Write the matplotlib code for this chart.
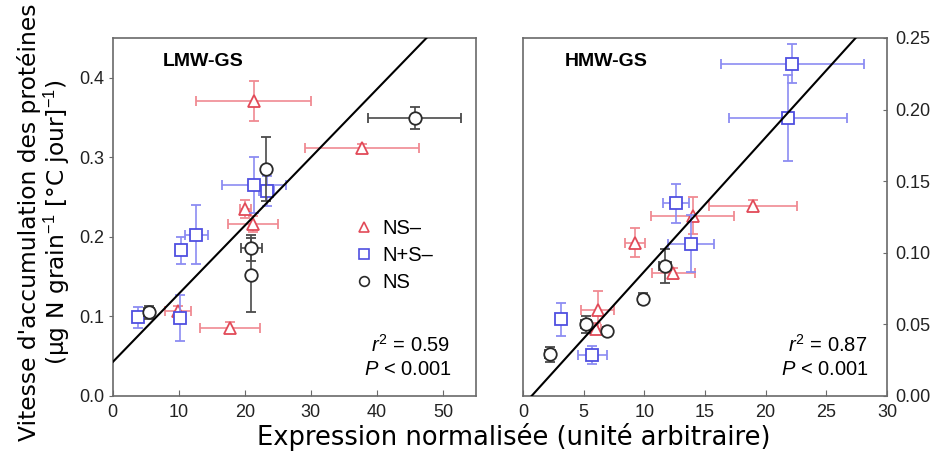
import matplotlib
matplotlib.use("Agg")
import matplotlib.pyplot as plt
from matplotlib.lines import Line2D
import numpy as np

plt.rcParams['font.family'] = ['Liberation Sans', 'DejaVu Sans']
plt.rcParams['mathtext.fontset'] = 'custom'
plt.rcParams['mathtext.rm'] = 'Liberation Sans'
plt.rcParams['mathtext.it'] = 'Liberation Sans:italic'

# ---- LMW-GS panel data ----
lmw_nsm_x = [21.4, 37.7, 20.1, 21.2, 9.9, 17.8]
lmw_nsm_y = [0.371, 0.312, 0.235, 0.216, 0.107, 0.086]
lmw_nsm_xerr = [8.7, 8.6, 0.8, 3.8, 2.0, 4.5]
lmw_nsm_yerr = [0.025, 0.005, 0.011, 0.010, 0.006, 0.007]

lmw_nps_x = [21.4, 23.3, 12.7, 10.35, 10.2, 3.8]
lmw_nps_y = [0.265, 0.258, 0.2025, 0.183, 0.0985, 0.099]
lmw_nps_xerr = [4.9, 1.2, 1.7, 0.8, 0.8, 0.7]
lmw_nps_yerr = [0.035, 0.019, 0.037, 0.017, 0.029, 0.013]

lmw_ns_x = [45.7, 23.2, 21.0, 21.0, 5.5]
lmw_ns_y = [0.349, 0.2855, 0.186, 0.152, 0.105]
lmw_ns_xerr = [7.0, 0.5, 1.6, 0.5, 0.8]
lmw_ns_yerr = [0.014, 0.040, 0.016, 0.047, 0.008]

lmw_fit = (0.00858, 0.0424)   # slope, intercept
lmw_stats = ("0.59", "0.001")

# ---- HMW-GS panel data ----
hmw_nsm_x = [18.96, 13.97, 9.23, 12.4, 6.14, 6.0]
hmw_nsm_y = [0.133, 0.126, 0.107, 0.0857, 0.060, 0.047]
hmw_nsm_xerr = [3.6, 3.4, 0.85, 1.75, 1.4, 0.4]
hmw_nsm_yerr = [0.004, 0.013, 0.010, 0.004, 0.013, 0.004]

hmw_nps_x = [22.2, 21.86, 12.6, 13.86, 3.1, 5.72]
hmw_nps_y = [0.232, 0.194, 0.1346, 0.1064, 0.0535, 0.0286]
hmw_nps_xerr = [5.9, 4.85, 1.05, 1.9, 0.3, 1.2]
hmw_nps_yerr = [0.0135, 0.030, 0.0135, 0.020, 0.0117, 0.006]

hmw_ns_x = [11.7, 9.9, 5.18, 6.93, 2.2]
hmw_ns_y = [0.0908, 0.068, 0.050, 0.0454, 0.029]
hmw_ns_xerr = [0.5, 0.3, 0.4, 0.3, 0.4]
hmw_ns_yerr = [0.012, 0.004, 0.006, 0.002, 0.005]

hmw_fit = (0.00936, -0.0066)
hmw_stats = ("0.87", "0.001")

treatments = ["NS\u2013", "N+S\u2013", "NS"]
markers = ['^', 's', 'o']
edge_cols = ['#e24a58', '#4f4fe0', '#2a2a2a']
err_cols = ['#f08a92', '#8c8cf2', '#4a4a4a']
msizes = [8, 8, 9]

fig = plt.figure(figsize=(9.4, 4.57), dpi=100)
ax1 = fig.add_axes([0.1197, 0.1335, 0.3867, 0.7834])
ax2 = fig.add_axes([0.5564, 0.1335, 0.3872, 0.7834])


def draw_panel(ax, series, fit, xmax, title, stats, tx, ty):
    for i, (x, y, xe, ye) in enumerate(series):
        ax.errorbar(x, y, xerr=xe, yerr=ye, fmt=markers[i], ms=msizes[i],
                    mfc='white', mec=edge_cols[i], mew=1.3,
                    ecolor=err_cols[i], elinewidth=1.2, capsize=3.5,
                    capthick=1.2, zorder=3 + i)
    xs = np.array([0, xmax])
    ax.plot(xs, fit[0] * xs + fit[1], color='black', lw=1.5, zorder=10)
    ax.text(tx, 0.933, title, transform=ax.transAxes, fontsize=14,
            fontweight='bold', ha='left', va='center')
    ax.text(ty, 0.142, r'$\mathit{r}^{2}$' + ' = ' + stats[0],
            transform=ax.transAxes, fontsize=14.5, ha='right', va='center')
    ax.text(ty + 0.005, 0.075, r'$\mathit{P}$' + ' < ' + stats[1],
            transform=ax.transAxes, fontsize=14.5, ha='right', va='center')
    for s in ax.spines.values():
        s.set_color('#6a6a6a')
        s.set_linewidth(1.2)
    ax.set_xlim(0, xmax)


draw_panel(ax1,
           [(lmw_nsm_x, lmw_nsm_y, lmw_nsm_xerr, lmw_nsm_yerr),
            (lmw_nps_x, lmw_nps_y, lmw_nps_xerr, lmw_nps_yerr),
            (lmw_ns_x, lmw_ns_y, lmw_ns_xerr, lmw_ns_yerr)],
           lmw_fit, 55, "LMW-GS", lmw_stats, 0.139, 0.928)
ax1.set_ylim(0, 0.45)
ax1.set_xticks([0, 10, 20, 30, 40, 50])
ax1.set_yticks([0.0, 0.1, 0.2, 0.3, 0.4])
ax1.set_yticklabels(["0.0", "0.1", "0.2", "0.3", "0.4"])
ax1.tick_params(axis='x', direction='in', length=4, labelsize=13,
                colors='#6a6a6a', labelcolor='#222222', pad=6)
ax1.tick_params(axis='y', direction='out', length=3, labelsize=13,
                colors='#6a6a6a', labelcolor='#222222', pad=3)

draw_panel(ax2,
           [(hmw_nsm_x, hmw_nsm_y, hmw_nsm_xerr, hmw_nsm_yerr),
            (hmw_nps_x, hmw_nps_y, hmw_nps_xerr, hmw_nps_yerr),
            (hmw_ns_x, hmw_ns_y, hmw_ns_xerr, hmw_ns_yerr)],
           hmw_fit, 30, "HMW-GS", hmw_stats, 0.115, 0.945)
ax2.set_ylim(0, 0.25)
ax2.set_xticks([0, 5, 10, 15, 20, 25, 30])
ax2.set_yticks([0.0, 0.05, 0.10, 0.15, 0.20, 0.25])
ax2.set_yticklabels(["0.00", "0.05", "0.10", "0.15", "0.20", "0.25"])
ax2.yaxis.tick_right()
ax2.tick_params(axis='x', direction='in', length=4, labelsize=13,
                colors='#6a6a6a', labelcolor='#222222', pad=6)
ax2.tick_params(axis='y', direction='in', length=3, labelsize=13,
                colors='#6a6a6a', labelcolor='#222222', pad=6)

# legend in the LMW-GS panel
handles = [Line2D([], [], ls='none', marker=markers[i], ms=7,
                  mfc='white', mec=edge_cols[i], mew=1.2)
           for i in range(3)]
ax1.legend(handles, treatments, loc='upper left',
           bbox_to_anchor=(0.62, 0.545), frameon=False, fontsize=14.5,
           handlelength=0.8, handletextpad=0.5, labelspacing=0.4)

fig.text(0.547, 0.044, "Expression normalisée (unité arbitraire)",
         family=['DejaVu Sans'], fontsize=18.5,
         ha='center', va='center')
fig.text(0.047, 0.514,
         "Vitesse d'accumulation des protéines\n"
         r"(µg N grain$^{-1}$ [°C jour]$^{-1}$)",
         family=['DejaVu Sans'], fontsize=16.8, rotation=90,
         ha='center', va='center', multialignment='center',
         linespacing=1.05)

fig.savefig("out.png", dpi=100)
